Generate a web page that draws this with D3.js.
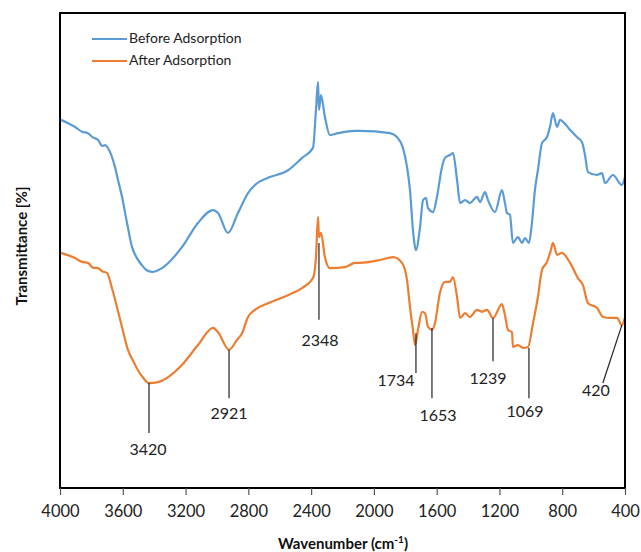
<!DOCTYPE html>
<html><head><meta charset="utf-8">
<script src="https://cdn.jsdelivr.net/npm/d3@7"></script>
<style>body{margin:0;background:#fff}svg{display:block;font-family:Lato,"Open Sans",sans-serif}</style>
</head><body><svg id="c" width="641" height="552"></svg>
<script>
// Wavenumbers (cm-1) and transmittance (arbitrary %)
const beforeWn = [3994,3904,3860,3822,3790,3758,3730,3713,3681,3650,3630,3605,3573,3541,3510,3478,3450,3414,3350,3223,3121,3025,2993,2930,2866,2802,2758,2675,2547,2458,2388,2369,2356,2350,2337,2312,2280,2229,2120,2088,1897,1853,1815,1789,1770,1751,1732,1706,1687,1668,1655,1623,1598,1566,1547,1515,1496,1470,1451,1419,1388,1343,1324,1292,1273,1228,1184,1165,1152,1133,1114,1082,1056,1037,1012,993,974,955,929,897,878,859,833,814,795,750,706,674,655,636,578,547,527,477,420,400];
const beforeT  = [77.5,76.0,75.0,74.7,73.8,73.3,72.0,72.2,70.7,67.6,64.8,61.3,55.8,50.7,48.4,46.9,45.9,45.5,46.3,50.7,55.8,58.5,57.9,53.7,57.9,62.1,63.8,65.3,66.9,69.5,71.6,79.6,85.5,79.6,82.7,78.1,74.3,74.7,75.2,75.2,74.7,73.9,71.6,67.6,62.7,54.3,50.1,54.9,60.6,61.1,58.9,58.1,61.3,67.6,69.5,70.1,70.5,64.8,60.0,60.6,60.0,61.3,60.2,62.3,60.6,58.1,62.7,60.0,57.9,57.5,51.6,52.8,51.6,52.6,51.6,55.8,62.7,66.9,72.6,73.9,76.0,78.9,76.0,77.5,77.1,75.4,73.9,72.8,70.1,66.5,65.9,66.3,64.2,65.9,63.8,65.5];
const afterWn  = [3994,3904,3860,3822,3790,3758,3730,3701,3669,3637,3605,3567,3530,3503,3470,3433,3376,3223,3121,3025,2993,2923,2872,2840,2802,2758,2675,2547,2458,2388,2369,2356,2350,2337,2312,2280,2184,2120,2088,1961,1878,1821,1789,1770,1751,1738,1719,1693,1674,1655,1630,1611,1579,1547,1515,1496,1470,1451,1419,1388,1343,1311,1279,1241,1184,1165,1146,1120,1114,1082,1050,1018,986,955,929,897,872,859,833,802,750,700,668,636,578,540,496,451,420,400];
const afterT   = [49.5,48.4,47.6,47.4,46.4,46.3,45.6,45.3,42.1,38.1,33.9,29.1,26.5,24.8,23.2,22.1,22.3,25.9,30.1,33.7,32.8,29.1,31.2,32.6,36.0,37.5,38.9,40.6,42.1,44.2,48.6,57.1,52.8,53.7,48.6,46.3,46.5,47.4,47.4,48.0,48.6,47.4,43.8,38.1,33.3,30.1,33.3,37.1,36.8,33.9,33.3,34.7,41.1,43.4,43.4,44.4,40.2,35.8,36.8,36.0,37.5,37.1,37.5,35.8,38.7,36.4,33.3,32.8,29.7,30.1,29.5,29.7,34.7,40.2,45.9,47.6,50.1,51.6,49.1,49.5,47.4,44.2,42.7,38.9,37.9,36.0,35.8,35.8,34.3,36.0];
const seriesNames = ["Before Adsorption","After Adsorption"];
const xTicks = [4000,3600,3200,2800,2400,2000,1600,1200,800,400];
// peak annotations: label, wavenumber where the leader sits, leader top/bottom (T)
const peakLabels = ["3420","2921","2348","1734","1653","1239","1069","420"];
const peakWn     = [3433,2923,2350,1732,1630,1241,1012,420];
const peakTop    = [22.1,29.1,51.6,32.6,33.7,35.8,29.5,34.3];
const peakBottom = [11.6,18.9,35.4,24.2,18.9,26.7,18.9,22.1];

const svg = d3.select("#c");
const L=60, R=625, T=13, B=488;
const x = d3.scaleLinear().domain([4000,400]).range([L,R]);
const y = d3.scaleLinear().domain([0,100]).range([B,T]);
const colors = ["#5B9BD5","#ED7D31"];

const line = d3.line().x(d=>x(d[0])).y(d=>y(d[1])).curve(d3.curveMonotoneX);
const before = beforeWn.map((w,i)=>[w,beforeT[i]]);
const after = afterWn.map((w,i)=>[w,afterT[i]]);

svg.append("clipPath").attr("id","cp").append("rect").attr("x",L).attr("y",T).attr("width",R-L).attr("height",B-T);

svg.append("path").datum(before).attr("d",line).attr("fill","none").attr("stroke",colors[0]).attr("stroke-width",2.2).attr("stroke-linejoin","round").attr("clip-path","url(#cp)");
svg.append("path").datum(after).attr("d",line).attr("fill","none").attr("stroke",colors[1]).attr("stroke-width",2.2).attr("stroke-linejoin","round").attr("clip-path","url(#cp)");

// annotations
const labelOff = [[-1,18],[0,17],[1,22],[-20,9],[6,19],[-5,19],[-4,15],[-26,9]];
peakLabels.forEach((lab,i)=>{
  const xb = lab==="420" ? x(peakWn[i]) - 19 : x(peakWn[i]);
  svg.append("line").attr("x1",x(peakWn[i])).attr("y1",y(peakTop[i]))
    .attr("x2",xb).attr("y2",y(peakBottom[i]))
    .attr("stroke","#222").attr("stroke-width",1.2);
  svg.append("text").attr("x",x(peakWn[i])+labelOff[i][0]).attr("y",y(peakBottom[i])+labelOff[i][1])
    .attr("text-anchor","middle").attr("dominant-baseline","middle")
    .attr("font-size",16).attr("fill","#222").text(lab);
});

// box
svg.append("rect").attr("x",L).attr("y",T).attr("width",R-L).attr("height",B-T)
  .attr("fill","none").attr("stroke","#000").attr("stroke-width",2);

// x axis
const ax = svg.append("g").attr("transform",`translate(0,${B})`)
  .call(d3.axisBottom(x).tickValues(xTicks).tickSize(7).tickPadding(10).tickFormat(d3.format("d")));
ax.select(".domain").remove();
ax.selectAll("line").attr("stroke","#555").attr("stroke-width",1.2);
ax.selectAll("text").attr("font-size",16.5).attr("fill","#222").attr("font-family","Lato,sans-serif");

// axis titles
const xt = svg.append("text").attr("x",343).attr("y",549).attr("text-anchor","middle")
  .attr("font-weight","bold").attr("font-size",15).attr("fill","#111");
xt.append("tspan").text("Wavenumber (cm");
xt.append("tspan").attr("font-size",10).attr("dy",-6).text("-1");
xt.append("tspan").attr("dy",6).text(")");

svg.append("text").attr("transform","translate(27,246) rotate(-90)").attr("text-anchor","middle")
  .attr("font-weight","bold").attr("font-size",15).attr("fill","#111").text("Transmittance [%]");

// legend
seriesNames.forEach((n,i)=>{
  const yy = 39 + i*22;
  svg.append("line").attr("x1",92).attr("x2",127).attr("y1",yy).attr("y2",yy).attr("stroke",colors[i]).attr("stroke-width",2);
  svg.append("text").attr("x",129).attr("y",yy).attr("dominant-baseline","middle").attr("font-size",14).attr("fill","#222").text(n);
});
</script></body></html>
